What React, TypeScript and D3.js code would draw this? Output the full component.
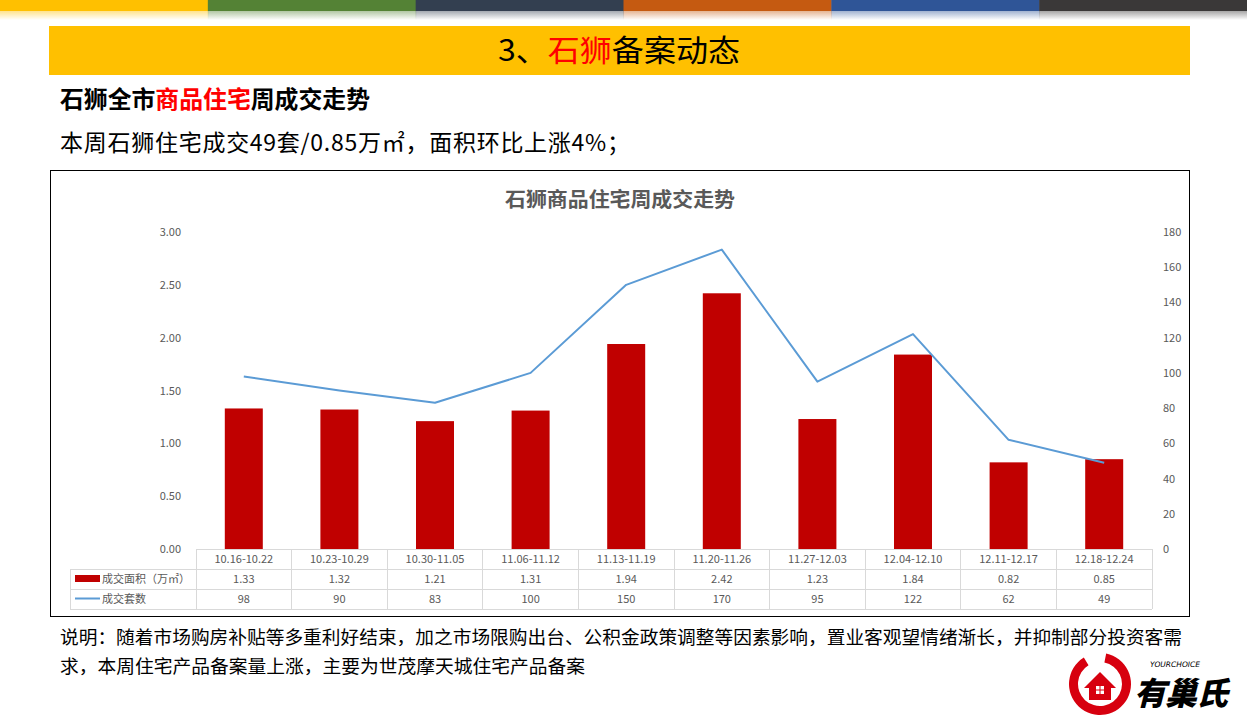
import React from "react";
import * as d3 from "d3";

const categories = ["10.16-10.22","10.23-10.29","10.30-11.05","11.06-11.12","11.13-11.19","11.20-11.26","11.27-12.03","12.04-12.10","12.11-12.17","12.18-12.24"];
const areaValues = [1.33,1.32,1.21,1.31,1.94,2.42,1.23,1.84,0.82,0.85];
const countValues = [98,90,83,100,150,170,95,122,62,49];
const leftTicks = [0,0.5,1,1.5,2,2.5,3];
const rightTicks = [0,20,40,60,80,100,120,140,160,180];
const topColors = ["#FFC000","#548235","#333F50","#C55A11","#2F5597","#3A3838"];

const FONT = "'Noto Sans CJK SC','Noto Sans',sans-serif";

export default function App() {
  const W = 1247, H = 718;
  const x = d3.scaleBand<string>().domain(categories).range([196, 1152]).paddingInner(0).paddingOuter(0);
  const yL = d3.scaleLinear().domain([0, 3]).range([549, 232]);
  const yR = d3.scaleLinear().domain([0, 180]).range([549, 232]);
  const bw = 38;
  const line = d3.line<number>().x((_, i) => (x(categories[i]) as number) + x.bandwidth() / 2).y(d => yR(d));
  const segW = W / topColors.length;
  const tableRows = [549, 569, 589, 609];
  const gray = "#595959";
  const border = "#D9D9D9";

  const ring = d3.arc()({ innerRadius: 22, outerRadius: 31, startAngle: 0.55, endAngle: 2 * Math.PI - 0.2 } as any) as string;

  return (
    <svg width={W} height={H} style={{ position: "absolute", left: 0, top: 0, background: "#fff" }} fontFamily={FONT}>
      <defs>
        {topColors.map((c, i) => (
          <linearGradient key={i} id={"fade" + i} x1="0" y1="0" x2="0" y2="1">
            <stop offset="0" stopColor={c} stopOpacity={0.45} />
            <stop offset="1" stopColor={c} stopOpacity={0} />
          </linearGradient>
        ))}
      </defs>
      <rect x={0} y={0} width={W} height={H} fill="#fff" />
      {topColors.map((c, i) => (
        <g key={i}>
          <rect x={i * segW} y={0} width={segW + 0.5} height={11} fill={c} />
          <rect x={i * segW} y={11} width={segW + 0.5} height={9} fill={`url(#fade${i})`} />
        </g>
      ))}
      {/* Banner */}
      <rect x={49} y={26} width={1141} height={49} fill="#FFC000" />
      <text x={498} y={61} fontSize={30} fill="#000" textLength={242} lengthAdjust="spacingAndGlyphs">
        3、<tspan fill="#FF0000">石狮</tspan>备案动态
      </text>
      <text x={60} y={108} fontSize={23.5} fontWeight="bold" fill="#000" textLength={310} lengthAdjust="spacingAndGlyphs">
        石狮全市<tspan fill="#FF0000">商品住宅</tspan>周成交走势
      </text>
      <text x={60} y={151} fontSize={23} fill="#000" textLength={570} lengthAdjust="spacing">本周石狮住宅成交49套/0.85万㎡，面积环比上涨4%；</text>

      {/* Chart box */}
      <rect x={50.5} y={170.5} width={1139} height={446} fill="#fff" stroke="#000" strokeWidth={1} />
      <text x={505} y={207} fontSize={20} fontWeight="bold" fill={gray} textLength={230} lengthAdjust="spacingAndGlyphs">石狮商品住宅周成交走势</text>

      {leftTicks.map(t => (
        <text key={t} x={181} y={yL(t) + 4} fontSize={11} textAnchor="end" fill={gray}>{t.toFixed(2)}</text>
      ))}
      {rightTicks.map(t => (
        <text key={t} x={1163} y={yR(t) + 4} fontSize={11} textAnchor="start" fill={gray}>{t}</text>
      ))}

      {areaValues.map((v, i) => (
        <rect key={i} x={(x(categories[i]) as number) + x.bandwidth() / 2 - bw / 2} y={yL(v)} width={bw} height={yL(0) - yL(v)} fill="#C00000" />
      ))}
      <path d={line(countValues) as string} fill="none" stroke="#5B9BD5" strokeWidth={2} strokeLinejoin="round" />

      {/* Data table */}
      <g stroke={border} strokeWidth={1} shapeRendering="crispEdges">
        <line x1={196} x2={1152} y1={tableRows[0]} y2={tableRows[0]} />
        <line x1={70} x2={1152} y1={tableRows[1]} y2={tableRows[1]} />
        <line x1={70} x2={1152} y1={tableRows[2]} y2={tableRows[2]} />
        <line x1={70} x2={1152} y1={tableRows[3]} y2={tableRows[3]} />
        <line x1={70} x2={70} y1={tableRows[1]} y2={tableRows[3]} />
        {categories.map((c) => (
          <line key={c} x1={x(c) as number} x2={x(c) as number} y1={tableRows[0]} y2={tableRows[3]} />
        ))}
        <line x1={1152} x2={1152} y1={tableRows[0]} y2={tableRows[3]} />
      </g>
      {categories.map((c, i) => {
        const cx = (x(c) as number) + x.bandwidth() / 2;
        return (
          <g key={c} fontSize={11} fill={gray} textAnchor="middle">
            <text x={cx} y={563}>{c}</text>
            <text x={cx} y={583}>{areaValues[i].toFixed(2)}</text>
            <text x={cx} y={603}>{countValues[i]}</text>
          </g>
        );
      })}
      <rect x={75} y={575} width={25} height={7} fill="#C00000" />
      <text x={102} y={583} fontSize={11} fill={gray}>成交面积（万㎡）</text>
      <line x1={75} x2={100} y1={598.5} y2={598.5} stroke="#5B9BD5" strokeWidth={2} />
      <text x={102} y={603} fontSize={11} fill={gray}>成交套数</text>

      {/* Note */}
      <text x={60} y={644} fontSize={18.4} fill="#000" textLength={1122} lengthAdjust="spacingAndGlyphs">说明：随着市场购房补贴等多重利好结束，加之市场限购出台、公积金政策调整等因素影响，置业客观望情绪渐长，并抑制部分投资客需</text>
      <text x={60} y={673} fontSize={18.4} fill="#000" textLength={525} lengthAdjust="spacingAndGlyphs">求，本周住宅产品备案量上涨，主要为世茂摩天城住宅产品备案</text>

      {/* Logo */}
      <g transform="translate(1100,684)">
        <path d={ring} fill="#D7000F" transform="rotate(-20)" />
        <path d="M-16,4 L0,-12 L16,4 L11,4 L11,16 L-11,16 L-11,4 Z" fill="#D7000F" />
        <rect x={-4} y={2} width={8} height={8} fill="#fff" />
        <line x1={0} x2={0} y1={2} y2={10} stroke="#D7000F" strokeWidth={1} />
        <line x1={-4} x2={4} y1={6} y2={6} stroke="#D7000F" strokeWidth={1} />
      </g>
      <text x={1150} y={667} fontSize={7.5} fontStyle="italic" fontFamily="'DejaVu Sans',sans-serif" fill="#000">YOURCHOICE</text>
      <text x={1134} y={705} fontSize={32} fontWeight="900" fontStyle="italic" fill="#000" letterSpacing={-1}>有巢氏</text>
    </svg>
  );
}
